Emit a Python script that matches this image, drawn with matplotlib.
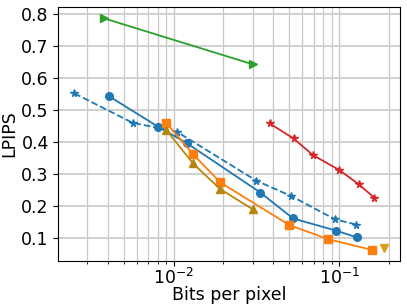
import matplotlib
matplotlib.use("Agg")
import matplotlib.pyplot as plt

green_x = [0.00378, 0.0300]
green_y = [0.787, 0.643]

blue_x = [0.00405, 0.00805, 0.01205, 0.0334, 0.0526, 0.0957, 0.1277]
blue_y = [0.544, 0.448, 0.396, 0.242, 0.161, 0.123, 0.102]

bluestar_x = [0.00252, 0.00566, 0.01048, 0.0316, 0.0513, 0.0946, 0.1267]
bluestar_y = [0.552, 0.460, 0.432, 0.279, 0.231, 0.158, 0.142]

orange_x = [0.00904, 0.0131, 0.0191, 0.0501, 0.0861, 0.158]
orange_y = [0.460, 0.362, 0.274, 0.140, 0.096, 0.0625]

olive_x = [0.00904, 0.0131, 0.0191, 0.0300]
olive_y = [0.4375, 0.333, 0.253, 0.190]

single_x = [0.1875]
single_y = [0.068]

red_x = [0.0380, 0.0530, 0.0694, 0.1000, 0.131, 0.1627]
red_y = [0.458, 0.411, 0.359, 0.3125, 0.268, 0.226]

fig = plt.figure(figsize=(4.07, 3.08), dpi=100)
ax = fig.add_axes([0.1437, 0.1526, 0.8393, 0.8257])

ax.plot(green_x, green_y, color='tab:green', marker='>', ms=5.5, lw=1.3)
ax.plot(blue_x, blue_y, color='tab:blue', marker='o', ms=5.5, lw=1.3)
ax.plot(bluestar_x, bluestar_y, color='tab:blue', marker='*', ms=5.5, lw=1.3, ls='--')
ax.plot(orange_x, orange_y, color='tab:orange', marker='s', ms=5.5, lw=1.3)
ax.plot(olive_x, olive_y, color='#b8860b', marker='^', ms=5.5, lw=1.3)
ax.plot(single_x, single_y, color='#d9a020', marker='v', ms=5.5, lw=0)
ax.plot(red_x, red_y, color='tab:red', marker='*', ms=5.5, lw=1.3)

ax.set_xscale('log')
ax.set_xlim(0.00202, 0.233)
ax.set_ylim(0.028, 0.823)
ax.set_yticks([0.1, 0.2, 0.3, 0.4, 0.5, 0.6, 0.7, 0.8])
ax.grid(True, which='major', axis='y', color='#d0d0d0', lw=1.4)
ax.grid(True, which='major', axis='x', color='#c8c8c8', lw=1.0)
ax.grid(True, which='minor', axis='x', color='#c8c8c8', lw=0.9)
ax.tick_params(labelsize=12.5)
ax.tick_params(axis='x', which='major', pad=1.5)
ax.set_xlabel('Bits per pixel', fontsize=12.5, labelpad=-1.5)
ax.set_ylabel('LPIPS', fontsize=12.5, labelpad=2)

fig.savefig('out.png', dpi=100)
